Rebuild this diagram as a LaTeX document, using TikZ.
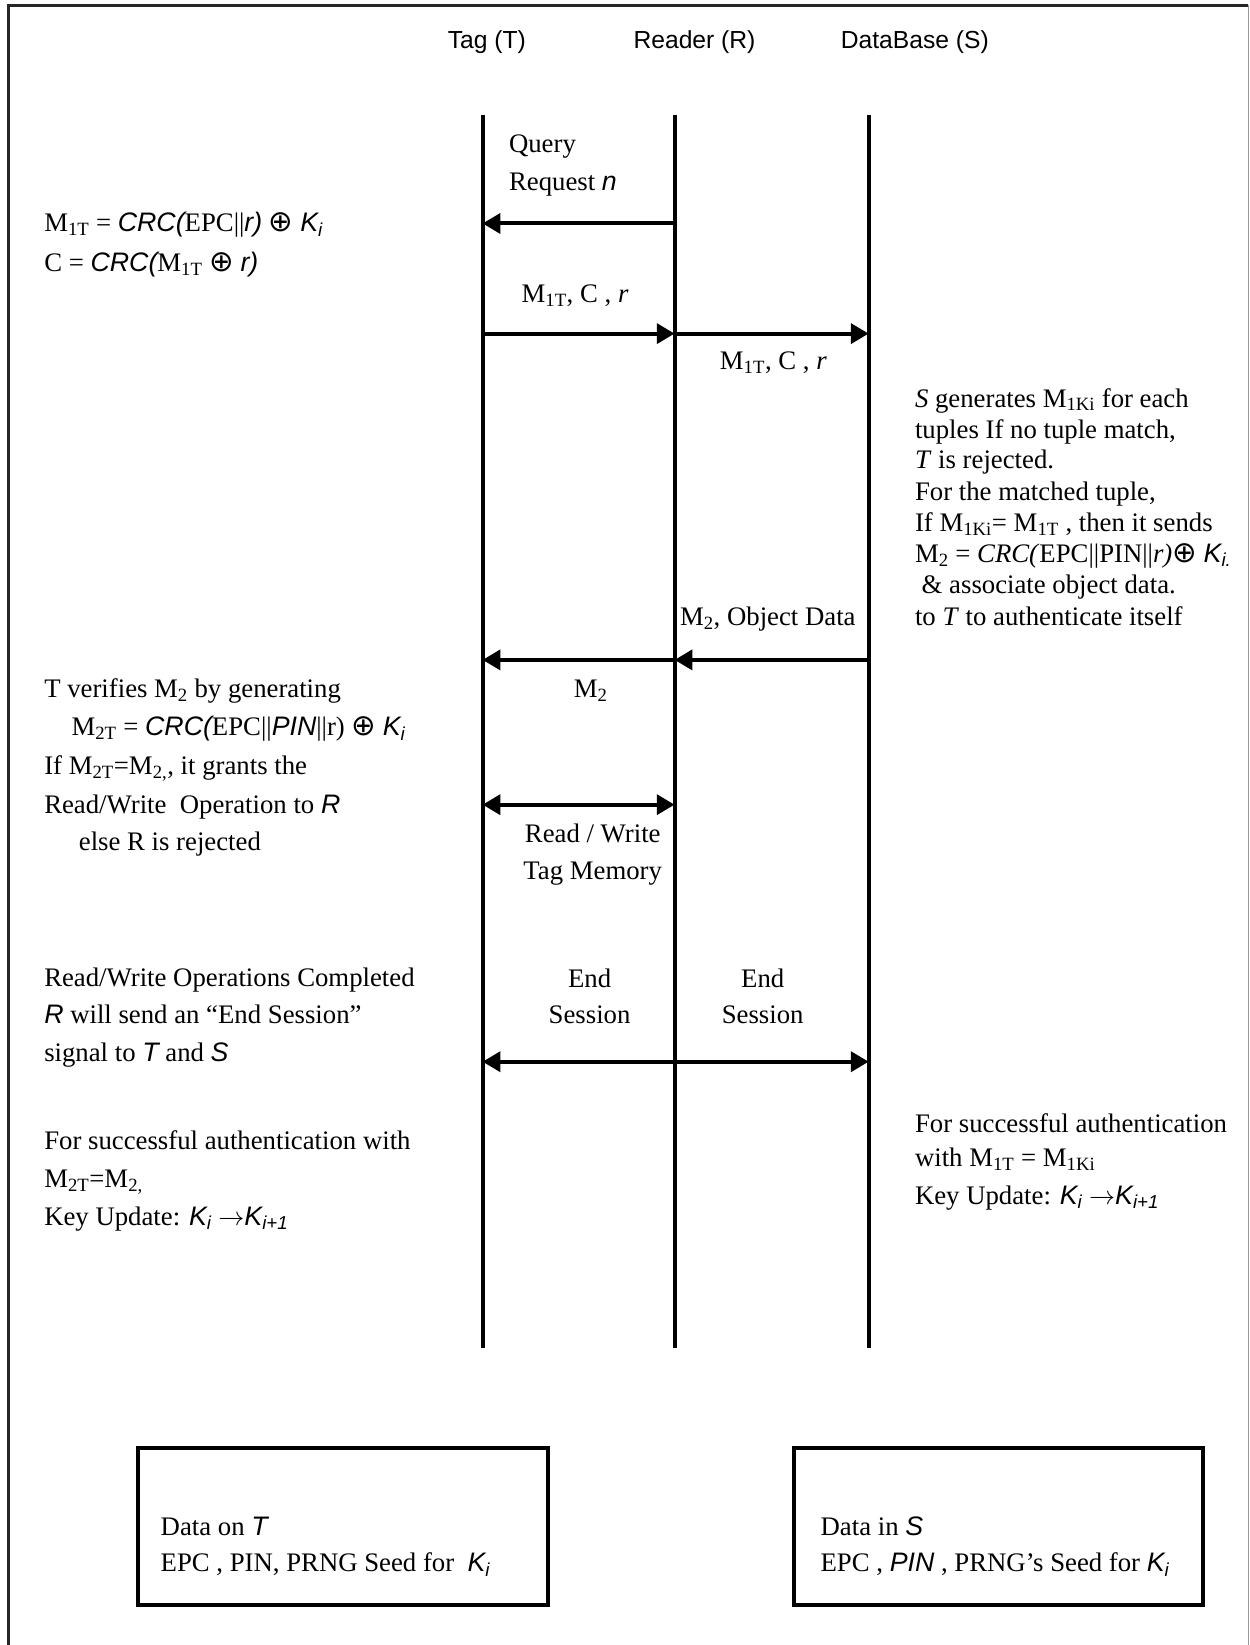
\documentclass[tikz,border=0pt]{standalone}
\usepackage{fontspec}
\setmainfont{Liberation Serif}
\newfontfamily\ar{Liberation Sans}
\newfontfamily\dv{DejaVu Sans}
\usetikzlibrary{arrows.meta}
\newcommand\ai[1]{{\ar\itshape #1}}
\newcommand\sbt[1]{\textsubscript{#1}}
\newcommand\xo{{\dv\fontsize{28}{30}\selectfont ⊕}}
\begin{document}
\begin{tikzpicture}[x=1pt,y=1pt,
  txt/.style={font=\fontsize{25.5}{30}\selectfont, inner sep=0, anchor=base west},
  ctxt/.style={font=\fontsize{25.5}{30}\selectfont, inner sep=0, anchor=base},
  hdr/.style={font=\ar\fontsize{23.5}{28}\selectfont, inner sep=0},
  life/.style={line width=3.8pt},
  msg/.style={line width=3.8pt, -{Triangle[length=17pt,width=19pt]}},
  dmsg/.style={line width=3.8pt, {Triangle[length=17pt,width=19pt]}-{Triangle[length=17pt,width=19pt]}},
  databox/.style={draw, line width=3.8pt, inner sep=0, anchor=north west}]
\useasboundingbox (0,0) rectangle (1191,-1568);
% frame
\draw[line width=3pt, black!85] (8,-1568) -- (8,-5) -- (1190,-5);
\draw[line width=1pt, black!40] (1190,-5) -- (1190,-1568);
% headers
\node[hdr] (hT) at (464,-40) {Tag (T)};
\node[hdr] (hR) at (662,-40) {Reader (R)};
\node[hdr] (hS) at (872,-40) {DataBase (S)};
% lifelines
\coordinate (Ttop) at (460,-110); \coordinate (Tbot) at (460,-1285);
\coordinate (Rtop) at (643,-110); \coordinate (Rbot) at (643,-1285);
\coordinate (Stop) at (828,-110); \coordinate (Sbot) at (828,-1285);
\draw[life] (Ttop) -- (Tbot);
\draw[life] (Rtop) -- (Rbot);
\draw[life] (Stop) -- (Sbot);
% message points
\coordinate (T1) at (460,-213); \coordinate (R1) at (643,-213);
\coordinate (T2) at (460,-318); \coordinate (R2) at (643,-318); \coordinate (S2) at (828,-318);
\coordinate (T3) at (460,-629); \coordinate (R3) at (643,-629); \coordinate (S3) at (828,-629);
\coordinate (T4) at (460,-767); \coordinate (R4) at (643,-767);
\coordinate (T5) at (460,-1012); \coordinate (S5) at (828,-1012);
\draw[msg] (R1) -- (T1);
\draw[msg] (T2) -- (R2);
\draw[msg] (R2) -- (S2);
\draw[msg] (S3) -- (R3);
\draw[msg] (R3) -- (T3);
\draw[dmsg] (T4) -- (R4);
\draw[dmsg] (T5) -- (S5);
% message labels
\node[txt] (q1) at (485,-145) {Query};
\node[txt] (q2) at (485,-182) {Request \ai{n}};
\node[txt] (m1a) at (497,-288) {M\sbt{1T}, C , \textit{r}};
\node[txt] (m1b) at (686,-352) {M\sbt{1T}, C , \textit{r}};
\node[txt] (m2a) at (648,-596) {M\sbt{2}, Object Data};
\node[ctxt] (m2b) at (563,-665) {M\sbt{2}};
\node[ctxt] (rw1) at (565,-803) {Read / Write};
\node[ctxt] (rw2) at (565,-838) {Tag Memory};
\node[ctxt] (es1) at (562,-941) {End};
\node[ctxt] (es2) at (562,-976) {Session};
\node[ctxt] (es3) at (727,-941) {End};
\node[ctxt] (es4) at (727,-976) {Session};
% left notes
\node[txt] (a1) at (42,-221) {M\sbt{1T} = \ai{CRC(}EPC||\ai{r)} \xo{} \ai{K\sbt{i}}};
\node[txt] (a2) at (42,-259) {C = \ai{CRC(}M\sbt{1T} \xo{} \ai{r)}};
\node[txt] (b1) at (42,-665) {T verifies M\sbt{2} by generating};
\node[txt] (b2) at (68,-701) {M\sbt{2T} = \ai{CRC(}EPC||\ai{PIN}||r) \xo{} \ai{K\sbt{i}}};
\node[txt] (b3) at (42,-738) {If M\sbt{2T}=M\sbt{2,}, it grants the};
\node[txt] (b4) at (42,-775) {Read/Write\ \ Operation to \ai{R}};
\node[txt] (b5) at (75,-811) {else R is rejected};
\node[txt] (c1) at (42,-940) {Read/Write Operations Completed};
\node[txt] (c2) at (42,-976) {\ai{R} will send an “End Session”};
\node[txt] (c3) at (42,-1012) {signal to \ai{T} and \ai{S}};
\node[txt] (d1) at (42,-1096) {For successful authentication with};
\node[txt] (d2) at (42,-1132) {M\sbt{2T}=M\sbt{2,}};
\node[txt] (d3) at (42,-1168) {Key Update: \ai{K\sbt{i}} $\to$\ai{K\sbt{i+1}}};
% right notes
\node[txt] (e1) at (872,-388) {\textit{S} generates M\sbt{1Ki} for each};
\node[txt] (e2) at (872,-418) {tuples If no tuple match,};
\node[txt] (e3) at (872,-447) {\textit{T} is rejected.};
\node[txt] (e4) at (872,-477) {For the matched tuple,};
\node[txt] (e5) at (872,-507) {If M\sbt{1Ki}= M\sbt{1T} , then it sends};
\node[txt] (e6) at (872,-536) {M\sbt{2} = \textit{CRC(}EPC||PIN||\textit{r)}\xo{} \ai{K\sbt{i.}}};
\node[txt] (e7) at (872,-566) {\ \& associate object data.};
\node[txt] (e8) at (872,-596) {to \textit{T} to authenticate itself};
\node[txt] (f1) at (872,-1079) {For successful authentication};
\node[txt] (f2) at (872,-1112) {with M\sbt{1T} = M\sbt{1Ki}};
\node[txt] (f3) at (872,-1148) {Key Update: \ai{K\sbt{i}} $\to$\ai{K\sbt{i+1}}};
% data boxes
\node[databox, minimum width=390pt, minimum height=150pt] (boxT) at (130,-1378) {};
\node[databox, minimum width=390pt, minimum height=150pt] (boxS) at (755,-1378) {};
\node[txt] (g1) at (153,-1464) {Data on \ai{T}};
\node[txt] (g2) at (153,-1498) {EPC , PIN, PRNG Seed for\ \ \ai{K\sbt{i}}};
\node[txt] (h1) at (782,-1464) {Data in \ai{S}};
\node[txt] (h2) at (782,-1498) {EPC , \ai{PIN} , PRNG’s Seed for \ai{K\sbt{i}}};
\end{tikzpicture}
\end{document}
